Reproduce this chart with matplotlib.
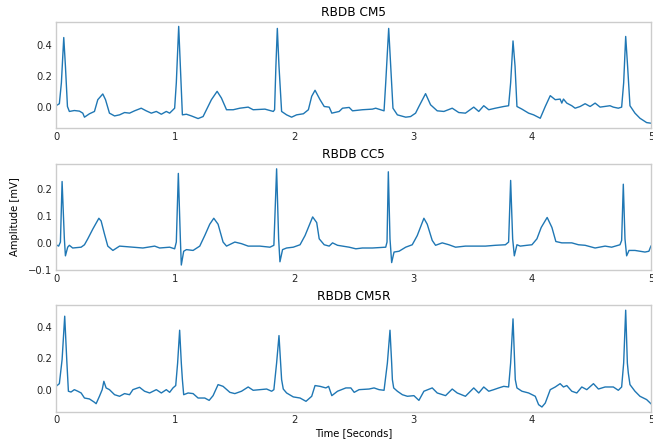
import matplotlib

matplotlib.use("Agg")
import matplotlib.pyplot as plt

plt.rcParams["font.family"] = "sans-serif"
plt.rcParams["font.sans-serif"] = ["DejaVu Sans"]

# Lead CM5 (time in s, amplitude in mV)
cm5_t = [0.000, 0.028, 0.045, 0.065, 0.079, 0.096, 0.112, 0.154, 0.197, 0.225, 0.239, 0.281, 0.323, 0.351,
         0.393, 0.416, 0.449, 0.492, 0.534, 0.576, 0.618, 0.660, 0.716, 0.758, 0.801, 0.843, 0.885, 0.927,
         0.955, 0.997, 1.011, 1.031, 1.045, 1.062, 1.096, 1.138, 1.194, 1.236, 1.264, 1.306, 1.354, 1.390,
         1.433, 1.489, 1.545, 1.615, 1.657, 1.756, 1.826, 1.837, 1.848, 1.860, 1.874, 1.896, 1.938, 1.980,
         2.022, 2.079, 2.121, 2.149, 2.177, 2.219, 2.254, 2.296, 2.318, 2.380, 2.408, 2.464, 2.492, 2.575,
         2.659, 2.687, 2.757, 2.771, 2.796, 2.813, 2.832, 2.869, 2.939, 2.980, 3.022, 3.050, 3.106, 3.148,
         3.204, 3.260, 3.330, 3.385, 3.441, 3.511, 3.553, 3.595, 3.637, 3.693, 3.763, 3.804, 3.821, 3.841,
         3.858, 3.874, 3.916, 3.972, 4.014, 4.042, 4.070, 4.112, 4.154, 4.196, 4.237, 4.251, 4.265, 4.293,
         4.335, 4.363, 4.405, 4.447, 4.489, 4.531, 4.573, 4.656, 4.684, 4.726, 4.754, 4.771, 4.788, 4.804,
         4.824, 4.866, 4.908, 4.964, 5.000]
cm5_v = [0.009, 0.022, 0.157, 0.450, 0.265, 0.004, -0.028, -0.022, -0.026, -0.039, -0.065, -0.043, -0.028, 0.048,
         0.085, 0.048, -0.039, -0.057, -0.050, -0.035, -0.039, -0.024, -0.007, -0.024, -0.039, -0.028, -0.046, -0.028,
         -0.039, -0.007, 0.157, 0.522, 0.265, -0.050, -0.046, -0.057, -0.074, -0.061, -0.017, 0.048, 0.102, 0.059,
         -0.017, -0.017, -0.007, 0.000, -0.017, -0.013, -0.028, -0.017, 0.265, 0.509, 0.265, -0.028, -0.050, -0.065,
         -0.050, -0.043, -0.017, 0.070, 0.109, 0.048, 0.004, 0.000, -0.039, -0.028, -0.007, -0.002, -0.024, -0.017,
         -0.013, -0.007, -0.024, 0.157, 0.509, 0.265, -0.007, -0.050, -0.065, -0.061, -0.039, 0.004, 0.087, 0.015,
         -0.024, -0.028, -0.007, -0.035, -0.039, 0.000, -0.028, 0.009, -0.017, -0.007, 0.004, 0.009, 0.157, 0.428,
         0.265, 0.004, -0.013, -0.039, -0.050, -0.061, -0.072, 0.004, 0.074, 0.048, 0.052, 0.026, 0.052, 0.026,
         0.009, -0.007, 0.004, 0.022, 0.004, 0.026, 0.000, 0.009, 0.000, -0.007, 0.000, 0.157, 0.457, 0.265,
         0.009, -0.039, -0.072, -0.100, -0.104]

# Lead CC5
cc5_t = [0.000, 0.022, 0.037, 0.051, 0.070, 0.079, 0.098, 0.112, 0.140, 0.211, 0.239, 0.267, 0.309, 0.360,
         0.379, 0.407, 0.435, 0.478, 0.534, 0.646, 0.730, 0.829, 0.871, 0.955, 0.997, 1.011, 1.028, 1.045,
         1.053, 1.073, 1.096, 1.152, 1.208, 1.250, 1.292, 1.326, 1.362, 1.404, 1.433, 1.503, 1.559, 1.615,
         1.713, 1.798, 1.831, 1.854, 1.871, 1.882, 1.904, 1.938, 1.994, 2.051, 2.093, 2.157, 2.191, 2.212,
         2.254, 2.296, 2.324, 2.366, 2.408, 2.464, 2.520, 2.575, 2.659, 2.771, 2.782, 2.793, 2.807, 2.821,
         2.841, 2.883, 2.939, 2.994, 3.036, 3.092, 3.120, 3.162, 3.190, 3.246, 3.302, 3.358, 3.441, 3.525,
         3.609, 3.693, 3.777, 3.804, 3.821, 3.838, 3.852, 3.874, 3.902, 3.958, 4.000, 4.042, 4.078, 4.128,
         4.168, 4.201, 4.251, 4.335, 4.391, 4.447, 4.531, 4.615, 4.670, 4.740, 4.754, 4.768, 4.782, 4.796,
         4.816, 4.866, 4.950, 4.983, 5.000]
cc5_v = [-0.006, -0.011, 0.004, 0.228, 0.016, -0.047, -0.015, -0.008, -0.018, -0.015, -0.006, 0.016, 0.052, 0.092,
         0.082, 0.034, -0.011, -0.027, -0.011, -0.015, -0.018, -0.011, -0.018, -0.015, -0.021, 0.004, 0.258, 0.016,
         -0.081, -0.030, -0.024, -0.027, -0.011, 0.028, 0.070, 0.092, 0.070, 0.004, -0.011, 0.004, -0.002, -0.011,
         -0.011, -0.015, -0.008, 0.275, 0.016, -0.069, -0.024, -0.018, -0.015, -0.006, 0.028, 0.097, 0.076, 0.016,
         -0.006, -0.011, 0.001, -0.008, -0.011, -0.015, -0.021, -0.018, -0.018, -0.015, 0.004, 0.264, 0.016, -0.072,
         -0.033, -0.030, -0.015, -0.006, 0.028, 0.092, 0.070, 0.010, -0.008, 0.001, -0.006, -0.015, -0.011, -0.011,
         -0.011, -0.008, -0.006, 0.004, 0.232, 0.016, -0.047, -0.006, -0.011, -0.008, -0.006, 0.016, 0.058, 0.095,
         0.058, 0.006, 0.001, 0.001, -0.006, -0.008, -0.018, -0.011, -0.015, -0.006, 0.010, 0.218, 0.016, -0.047,
         -0.027, -0.027, -0.033, -0.030, -0.011]

# Lead CM5R
cm5r_t = [0.000, 0.028, 0.051, 0.073, 0.090, 0.104, 0.126, 0.154, 0.183, 0.211, 0.239, 0.281, 0.323, 0.337,
          0.365, 0.388, 0.402, 0.421, 0.449, 0.492, 0.534, 0.576, 0.618, 0.646, 0.702, 0.744, 0.787, 0.843,
          0.885, 0.927, 0.955, 0.983, 1.006, 1.022, 1.039, 1.053, 1.062, 1.073, 1.110, 1.152, 1.194, 1.250,
          1.287, 1.320, 1.362, 1.404, 1.461, 1.503, 1.559, 1.615, 1.657, 1.713, 1.770, 1.812, 1.831, 1.854,
          1.874, 1.888, 1.896, 1.910, 1.938, 1.994, 2.051, 2.101, 2.149, 2.177, 2.219, 2.268, 2.291, 2.318,
          2.366, 2.436, 2.478, 2.506, 2.547, 2.631, 2.673, 2.715, 2.757, 2.785, 2.807, 2.821, 2.827, 2.838,
          2.869, 2.911, 2.953, 3.008, 3.050, 3.092, 3.162, 3.204, 3.274, 3.330, 3.372, 3.441, 3.511, 3.553,
          3.595, 3.637, 3.679, 3.721, 3.763, 3.804, 3.821, 3.841, 3.855, 3.860, 3.874, 3.916, 3.972, 4.028,
          4.056, 4.084, 4.112, 4.154, 4.196, 4.237, 4.265, 4.293, 4.335, 4.377, 4.419, 4.461, 4.517, 4.559,
          4.615, 4.684, 4.726, 4.754, 4.771, 4.788, 4.802, 4.810, 4.824, 4.866, 4.908, 4.964, 5.000]
cm5r_v = [0.023, 0.040, 0.193, 0.468, 0.193, -0.008, -0.013, 0.002, -0.008, -0.019, -0.051, -0.057, -0.078, -0.087,
          -0.040, 0.002, 0.055, 0.013, 0.002, -0.030, -0.040, -0.023, -0.030, 0.002, 0.017, -0.008, -0.019, 0.002,
          -0.019, 0.002, -0.015, 0.013, 0.028, 0.171, 0.379, 0.171, 0.066, -0.030, -0.019, -0.023, -0.051, -0.051,
          -0.066, -0.036, 0.034, 0.023, -0.015, -0.023, -0.008, 0.019, -0.002, 0.002, 0.006, -0.008, 0.002, 0.171,
          0.345, 0.171, 0.066, 0.006, -0.019, -0.044, -0.051, -0.072, -0.040, 0.028, 0.023, 0.013, 0.023, -0.036,
          -0.008, 0.013, 0.013, -0.015, 0.002, 0.006, 0.013, 0.002, -0.002, 0.171, 0.379, 0.171, 0.066, 0.013,
          -0.008, -0.030, -0.040, -0.036, -0.066, -0.008, 0.013, -0.019, -0.036, 0.006, -0.019, -0.040, 0.013, -0.019,
          0.019, -0.008, 0.002, 0.013, 0.023, 0.019, 0.171, 0.451, 0.171, 0.066, 0.013, -0.008, -0.019, -0.040,
          -0.093, -0.108, -0.083, 0.002, 0.019, 0.040, 0.019, 0.028, -0.008, -0.019, 0.019, 0.002, 0.040, 0.006,
          0.019, 0.019, -0.002, 0.019, 0.171, 0.506, 0.171, 0.108, 0.034, -0.008, -0.040, -0.061, -0.087]

titles = ["RBDB CM5", "RBDB CC5", "RBDB CM5R"]
series = [(cm5_t, cm5_v), (cc5_t, cc5_v), (cm5r_t, cm5r_v)]

fig = plt.figure(figsize=(6.53, 4.4), dpi=100)
bottoms = [0.709, 0.386, 0.064]
for i, (title, (t, v)) in enumerate(zip(titles, series)):
    ax = fig.add_axes([0.0858, bottoms[i], 0.911, 0.242])
    ax.plot(t, v, color="#1f77b4", lw=1.0)
    ax.set_xlim(0, 5)
    if i == 1:
        ax.set_ylim(-0.1, 0.294)
    ax.set_title(title, fontsize=8.7, pad=4)
    ax.tick_params(length=0, labelsize=7.2, pad=2.5, colors="#262626")
    for s in ax.spines.values():
        s.set_color("#cccccc")
        s.set_linewidth(1.0)
    if i == 1:
        ax.set_ylabel("Amplitude [mV]", fontsize=7.2, labelpad=6)
    if i == 2:
        ax.set_xlabel("Time [Seconds]", fontsize=7.2, labelpad=2)

fig.savefig("out.png", dpi=100)
